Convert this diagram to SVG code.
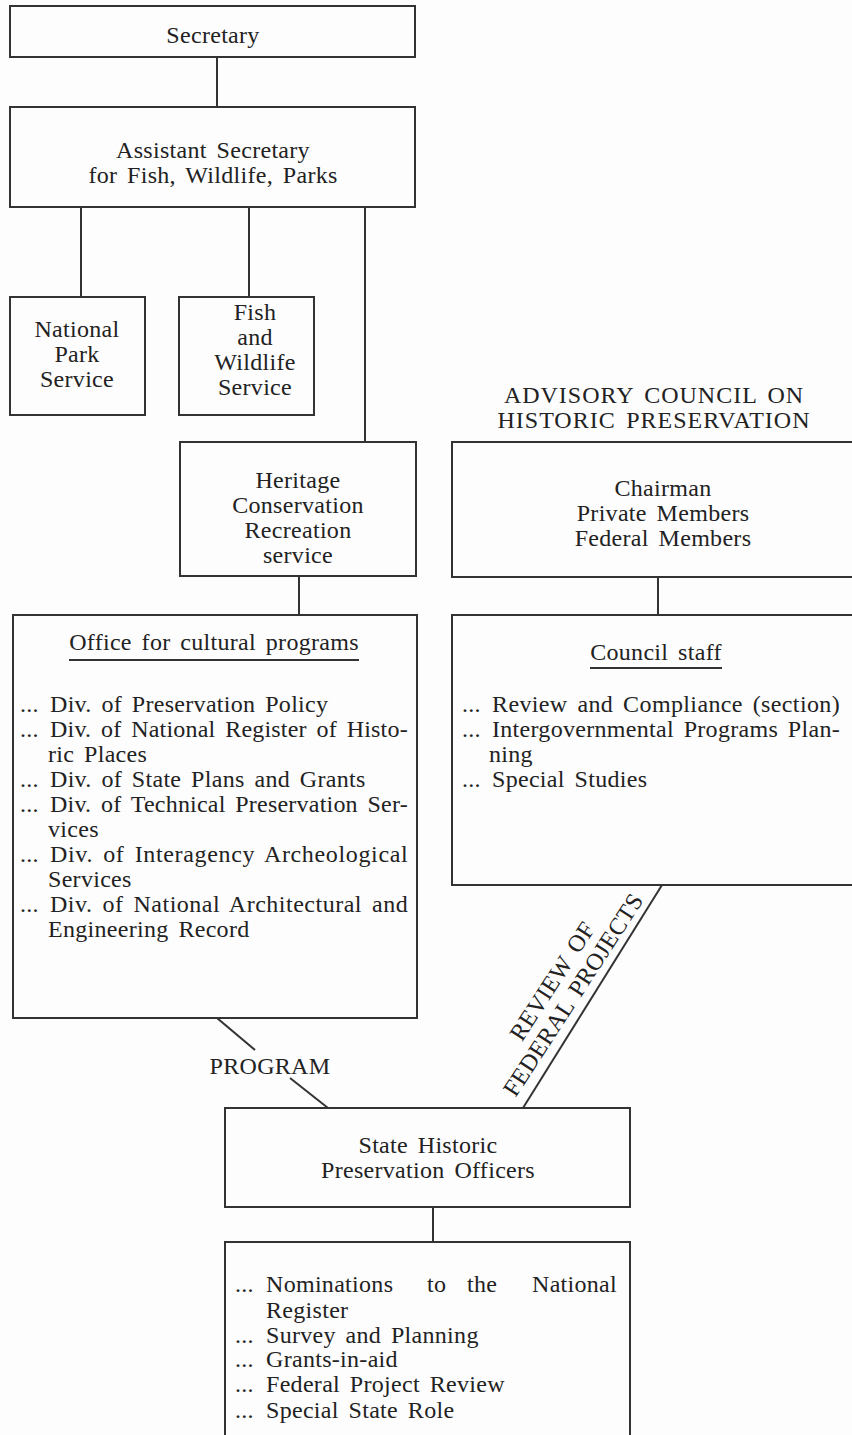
<svg xmlns="http://www.w3.org/2000/svg" width="852" height="1435" viewBox="0 0 852 1435">
<style>
.box{fill:none;stroke:#333;stroke-width:2}
.ln{fill:none;stroke:#333;stroke-width:2}
text{font-family:"Liberation Serif","Times New Roman",serif;font-size:24px;fill:#222;letter-spacing:0.3px;word-spacing:3.5px}
.c{text-anchor:middle}
.hd{letter-spacing:1px}
</style>
<rect x="0" y="0" width="852" height="1435" fill="#fdfdfd"/>
<g id="connectors">
<line class="ln" x1="217" y1="57" x2="217" y2="107"/>
<line class="ln" x1="81" y1="207" x2="81" y2="297"/>
<line class="ln" x1="249" y1="207" x2="249" y2="297"/>
<line class="ln" x1="365" y1="207" x2="365" y2="442"/>
<line class="ln" x1="299" y1="576" x2="299" y2="615"/>
<line class="ln" x1="658" y1="577" x2="658" y2="615"/>
<line class="ln" x1="217" y1="1018" x2="255" y2="1050"/>
<line class="ln" x1="290" y1="1078" x2="328" y2="1108"/>
<line class="ln" x1="662" y1="885" x2="523" y2="1108"/>
<line class="ln" x1="433" y1="1207" x2="433" y2="1242"/>
<text class="c" x="270" y="1074">PROGRAM</text>
<g transform="translate(569,992) rotate(-57)">
<text class="c" x="0" y="-12">REVIEW OF</text>
<text class="c" x="0" y="13">FEDERAL PROJECTS</text>
</g>
</g>
<g id="secretary">
<rect class="box" x="10" y="6" width="405" height="51"/>
<text class="c" x="213" y="43">Secretary</text>
</g>
<g id="assistant-secretary">
<rect class="box" x="10" y="107" width="405" height="100"/>
<text class="c" x="213" y="158">Assistant Secretary</text>
<text class="c" x="213" y="183">for Fish, Wildlife, Parks</text>
</g>
<g id="national-park-service">
<rect class="box" x="10" y="297" width="135" height="118"/>
<text class="c" x="77" y="337">National</text>
<text class="c" x="77" y="362">Park</text>
<text class="c" x="77" y="387">Service</text>
</g>
<g id="fish-wildlife-service">
<rect class="box" x="179" y="297" width="135" height="118"/>
<text class="c" x="255" y="320">Fish</text>
<text class="c" x="255" y="345">and</text>
<text class="c" x="255" y="370">Wildlife</text>
<text class="c" x="255" y="395">Service</text>
</g>
<g id="heritage">
<rect class="box" x="180" y="442" width="236" height="134"/>
<text class="c" x="298" y="488">Heritage</text>
<text class="c" x="298" y="513">Conservation</text>
<text class="c" x="298" y="538">Recreation</text>
<text class="c" x="298" y="563">service</text>
</g>
<g id="office-cultural-programs">
<rect class="box" x="13" y="615" width="404" height="403"/>
<text class="c" x="214" y="650">Office for cultural programs</text>
<line class="ln" x1="69" y1="660" x2="359" y2="660"/>
<text x="20" y="712">...</text><text x="50" y="712">Div. of Preservation Policy</text>
<text x="20" y="737">...</text><text x="50" y="737" textLength="358" lengthAdjust="spacing">Div. of National Register of Histo-</text>
<text x="48" y="762">ric Places</text>
<text x="20" y="787">...</text><text x="50" y="787">Div. of State Plans and Grants</text>
<text x="20" y="812">...</text><text x="50" y="812" textLength="358" lengthAdjust="spacing">Div. of Technical Preservation Ser-</text>
<text x="48" y="837">vices</text>
<text x="20" y="862">...</text><text x="50" y="862" textLength="358" lengthAdjust="spacing">Div. of Interagency Archeological</text>
<text x="48" y="887">Services</text>
<text x="20" y="912">...</text><text x="50" y="912" textLength="358" lengthAdjust="spacing">Div. of National Architectural and</text>
<text x="48" y="937">Engineering Record</text>
</g>
<g id="advisory-council-title">
<text class="c hd" x="654" y="403">ADVISORY COUNCIL ON</text>
<text class="c hd" x="654" y="428">HISTORIC PRESERVATION</text>
</g>
<g id="chairman">
<rect class="box" x="452" y="442" width="410" height="135"/>
<text class="c" x="663" y="496">Chairman</text>
<text class="c" x="663" y="521">Private Members</text>
<text class="c" x="663" y="546">Federal Members</text>
</g>
<g id="council-staff">
<rect class="box" x="452" y="615" width="410" height="270"/>
<text class="c" x="656" y="660">Council staff</text>
<line class="ln" x1="590" y1="668" x2="722" y2="668"/>
<text x="462" y="712">...</text><text x="492" y="712" textLength="348" lengthAdjust="spacing">Review and Compliance (section)</text>
<text x="462" y="737">...</text><text x="492" y="737" textLength="348" lengthAdjust="spacing">Intergovernmental Programs Plan-</text>
<text x="489" y="762">ning</text>
<text x="462" y="787">...</text><text x="492" y="787">Special Studies</text>
</g>
<g id="state-historic-preservation-officers">
<rect class="box" x="225" y="1108" width="405" height="99"/>
<text class="c" x="428" y="1153">State Historic</text>
<text class="c" x="428" y="1178">Preservation Officers</text>
</g>
<g id="shpo-roles">
<rect class="box" x="225" y="1242" width="405" height="210"/>
<text x="235" y="1292">...</text>
<text y="1292"><tspan x="266">Nominations</tspan> <tspan x="427">to</tspan> <tspan x="467">the</tspan> <tspan x="532">National</tspan></text>
<text x="266" y="1318">Register</text>
<text x="235" y="1343">...</text><text x="266" y="1343">Survey and Planning</text>
<text x="235" y="1367">...</text><text x="266" y="1367">Grants-in-aid</text>
<text x="235" y="1392">...</text><text x="266" y="1392">Federal Project Review</text>
<text x="235" y="1418">...</text><text x="266" y="1418">Special State Role</text>
</g>
</svg>
